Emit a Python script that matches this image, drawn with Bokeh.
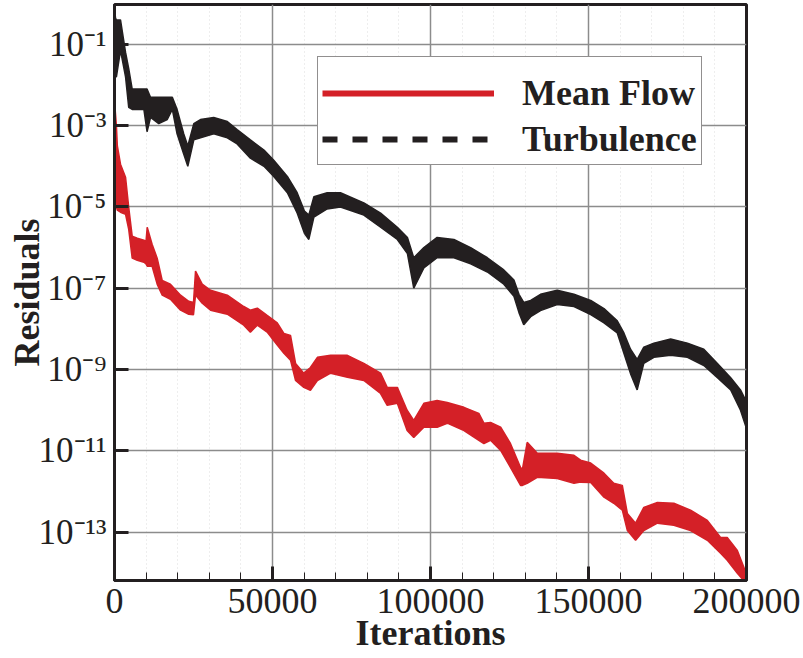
import numpy as np
from bokeh.plotting import figure
from bokeh.models import (Range1d, FixedTicker, SingleIntervalTicker, CustomJSTickFormatter,
                          BasicTickFormatter, Legend, LegendItem)
from bokeh.embed import file_html
from bokeh.resources import INLINE

# ---- data (iterations, log10 of residual band top / bottom) ----
turb_iter = [0, 300, 600, 1900, 3500, 4500, 5600, 9300, 10300, 11400, 14000, 16700, 18300,
             19800, 21900, 23200, 25100, 27200, 31400, 35700, 38800, 43000, 47300, 50400,
             54700, 57800, 60100, 61500, 63100, 67300, 71500, 78900, 84200, 89500, 92700,
             94700, 97900, 102100, 107400, 112700, 118000, 123200, 126400, 128000, 129500,
             131700, 134800, 140100, 145400, 150700, 154900, 159100, 161200, 163300, 165400,
             167500, 170700, 176000, 181300, 186500, 190800, 195000, 198100, 200000]
turb_hi = [-0.05, -0.35, -0.4, -0.4, -1.2, -1.6, -2.1, -2.1, -2.1, -2.3, -2.3, -2.3, -2.3,
           -2.6, -3.2, -3.5, -2.95, -2.85, -2.8, -2.9, -3.1, -3.35, -3.6, -3.85,
           -4.25, -4.65, -5.1, -5.2, -4.75, -4.65, -4.65, -4.9, -5.15, -5.5, -5.75,
           -6.25, -6.0, -5.75, -5.8, -6.0, -6.25, -6.55, -6.8, -7.15, -7.35,
           -7.3, -7.15, -7.05, -7.15, -7.3, -7.5, -7.8, -8.1, -8.5, -8.75,
           -8.45, -8.35, -8.25, -8.35, -8.5, -8.85, -9.2, -9.5, -9.8]
turb_lo = [-1.8, -1.8, -1.8, -1.15, -1.8, -2.55, -2.6, -2.6, -3.15, -2.8, -2.95, -2.85, -2.6,
           -3.2, -3.7, -4.0, -3.35, -3.3, -3.2, -3.3, -3.45, -3.8, -4.0, -4.25,
           -4.65, -5.15, -5.65, -5.8, -5.25, -5.05, -5.0, -5.2, -5.5, -5.8, -6.15,
           -7.0, -6.5, -6.25, -6.25, -6.4, -6.6, -6.9, -7.2, -7.6, -7.9,
           -7.7, -7.55, -7.4, -7.45, -7.65, -7.85, -8.1, -8.6, -9.1, -9.5,
           -8.85, -8.7, -8.65, -8.7, -8.9, -9.2, -9.5, -10.0, -10.45]

mean_iter = [200, 600, 900, 1900, 3500, 4500, 5600, 7200, 9300, 9970, 10350, 11900, 13500,
             15100, 17700, 20900, 23500, 25000, 25640, 27760, 30400, 35700, 40900, 43000,
             45200, 48300, 51500, 53600, 55700, 57300, 59900, 62000, 64200, 68400, 73700,
             78900, 84200, 86300, 89500, 92600, 94700, 97900, 102100, 105300, 110600,
             115300, 116900, 119000, 122200, 125300, 128500, 129100, 130600, 133800,
             140100, 145400, 147500, 150700, 154900, 158000, 160700, 162300, 164900,
             167500, 171800, 177000, 182300, 187600, 191800, 193900, 197100, 199200, 200000]
mean_hi = [-2.6, -3.0, -3.5, -3.95, -4.27, -5.01, -5.72, -5.77, -5.82, -5.85, -5.5, -5.92, -6.26,
           -6.81, -6.9, -7.17, -7.32, -7.35, -6.58, -6.9, -7.05, -7.17, -7.45, -7.54,
           -7.49, -7.67, -7.85, -8.11, -8.16, -8.85, -9.09, -8.95, -8.7, -8.65, -8.65,
           -8.85, -9.09, -9.44, -9.44, -10.0, -10.25, -9.83, -9.76, -9.81, -9.93,
           -10.08, -10.32, -10.3, -10.42, -10.82, -11.41, -11.45, -10.79, -11.06,
           -11.06, -11.11, -11.23, -11.3, -11.55, -11.8, -11.85, -12.54, -12.78,
           -12.39, -12.27, -12.29, -12.46, -12.71, -13.13, -13.13, -13.45, -13.87, -14.1]
mean_lo = [-4.6, -5.0, -5.08, -5.13, -5.18, -5.55, -6.26, -6.31, -6.36, -6.4, -6.46, -6.46, -6.9,
           -7.17, -7.27, -7.54, -7.64, -7.65, -7.17, -7.37, -7.54, -7.64, -7.91, -8.08,
           -7.91, -8.08, -8.4, -8.6, -8.77, -9.27, -9.44, -9.51, -9.27, -9.09, -9.19,
           -9.27, -9.59, -9.88, -9.83, -10.5, -10.67, -10.42, -10.42, -10.32, -10.5,
           -10.74, -10.82, -10.74, -10.99, -11.41, -11.85, -11.85, -11.8, -11.65,
           -11.68, -11.8, -11.77, -11.78, -12.14, -12.29, -12.46, -12.96, -13.2,
           -12.96, -12.78, -12.83, -12.96, -13.2, -13.52, -13.69, -14.01, -14.2, -14.3]

series_labels = ["Mean Flow", "Turbulence"]
y_tick_exps = [-1, -3, -5, -7, -9, -11, -13]

RED = "#d42027"
BLACK = "#231f20"
SERIF = "Liberation Serif"

p = figure(width=803, height=658, y_axis_type="log", output_backend="svg",
           toolbar_location=None,
           x_range=Range1d(0, 200000), y_range=Range1d(10 ** -14.19, 10 ** -0.02),
           min_border_left=114, min_border_right=57, min_border_top=4, min_border_bottom=78,
           background_fill_color="white", border_fill_color="white")

# data bands
t_it = np.array(turb_iter, dtype=float)
m_it = np.array(mean_iter, dtype=float)
p.varea(x=t_it, y1=10 ** np.array(turb_lo), y2=10 ** np.array(turb_hi), fill_color=BLACK)
p.line(t_it, 10 ** np.array(turb_lo), line_color=BLACK, line_width=1.5)
p.line(t_it, 10 ** np.array(turb_hi), line_color=BLACK, line_width=1.5)
p.varea(x=m_it, y1=10 ** np.array(mean_lo), y2=10 ** np.array(mean_hi), fill_color=RED)
p.line(m_it, 10 ** np.array(mean_lo), line_color=RED, line_width=1.5)
p.line(m_it, 10 ** np.array(mean_hi), line_color=RED, line_width=1.5)

# legend proxies (placed outside the visible x range)
leg_mean = p.line(x=[-30000, -20000], y=[1e-5, 1e-5], line_color=RED, line_width=6)
leg_turb = p.line(x=[-30000, -20000], y=[1e-5, 1e-5], line_color=BLACK, line_width=6,
                  line_dash="15 15")
legend = Legend(items=[LegendItem(label=series_labels[0], renderers=[leg_mean]),
                       LegendItem(label=series_labels[1], renderers=[leg_turb])],
                location=(203, 415), orientation="vertical",
                title=" ", title_text_font_size="10px", title_standoff=0,
                border_line_color=BLACK, border_line_width=1.5,
                background_fill_color="white", background_fill_alpha=1.0,
                label_text_font=SERIF, label_text_font_style="bold",
                label_text_font_size="36px", label_text_color=BLACK,
                glyph_width=172, glyph_height=40, label_height=40,
                label_standoff=28, padding=4, spacing=4, margin=0)
p.add_layout(legend)

# axes
xt = SingleIntervalTicker(interval=50000, num_minor_ticks=5)
yt = FixedTicker(ticks=[10.0 ** e for e in y_tick_exps], minor_ticks=[])
p.xaxis.ticker = xt
p.yaxis.ticker = yt
p.xgrid.ticker = xt
p.ygrid.ticker = yt

p.xaxis.formatter = BasicTickFormatter(use_scientific=False)
p.yaxis.formatter = CustomJSTickFormatter(code="""
const sup = {"-":"\u207b","0":"\u2070","1":"\u00b9","2":"\u00b2","3":"\u00b3","4":"\u2074",
             "5":"\u2075","6":"\u2076","7":"\u2077","8":"\u2078","9":"\u2079"};
const e = Math.round(Math.log10(tick));
return "10" + String(e).split("").map(c => sup[c]).join("");
""")

for ax in (p.xaxis[0], p.yaxis[0]):
    ax.axis_line_color = BLACK
    ax.axis_line_width = 3
    ax.major_tick_in = 14
    ax.major_tick_out = 0
    ax.major_tick_line_width = 3
    ax.major_tick_line_color = BLACK
    ax.major_label_text_font = SERIF
    ax.major_label_text_color = BLACK
    ax.axis_label_text_font = SERIF
    ax.axis_label_text_font_style = "bold"
    ax.axis_label_text_font_size = "36px"
    ax.axis_label_text_color = BLACK

p.xaxis.minor_tick_in = 8
p.xaxis.minor_tick_out = 0
p.xaxis.minor_tick_line_width = 1
p.xaxis.minor_tick_line_color = BLACK
p.yaxis.minor_tick_in = 0
p.yaxis.minor_tick_out = 0

p.xaxis.major_label_text_font_size = "36px"
p.yaxis.major_label_text_font_size = "35px"
p.xaxis.major_label_standoff = 8
p.yaxis.major_label_standoff = 8
p.xaxis.axis_label = "Iterations"
p.yaxis.axis_label = "Residuals"
p.xaxis.axis_label_standoff = -3
p.yaxis.axis_label_standoff = -11

for g in (p.xgrid[0], p.ygrid[0]):
    g.grid_line_color = "#8c8c8c"
    g.grid_line_width = 1.5
p.xgrid.minor_grid_line_color = "#dcdcdc"
p.xgrid.minor_grid_line_dash = "1 3"
p.xgrid.minor_grid_line_width = 1

p.outline_line_color = BLACK
p.outline_line_width = 3
p.outline_line_alpha = 1.0

open("out.html", "w").write(file_html(p, INLINE))
